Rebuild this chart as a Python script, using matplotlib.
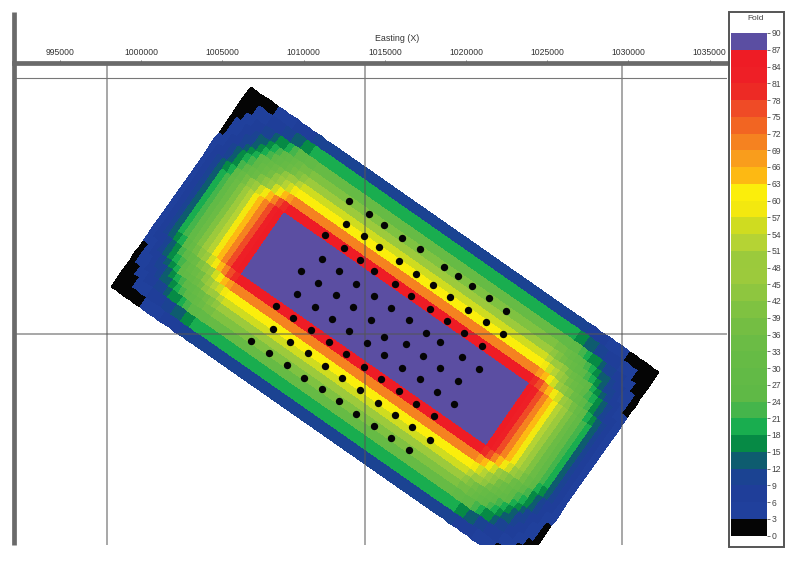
import numpy as np
import matplotlib
matplotlib.use("Agg")
import matplotlib.pyplot as plt
from matplotlib.colors import ListedColormap, BoundaryNorm
from matplotlib.patches import Rectangle

plt.rcParams['font.family'] = ['Liberation Sans', 'DejaVu Sans']

# Colour table, one colour per 3 fold
fold_levels = list(range(0, 93, 3))
fold_colours = [
    '#050505', '#20409c', '#1f3e99', '#1b4392', '#0e5c6f', '#068a45', '#19ad4f', '#45b54b',
    '#5fb946', '#62ba46', '#66bb45', '#6bbc45', '#74be43', '#7fc241', '#8ec63f', '#9cca3c',
    '#9bca3c', '#b5d334', '#cfdc20', '#f3e80f', '#fbee0b', '#fdb913', '#f99d1c', '#f58220',
    '#f26522', '#ef4b26', '#ed2a25', '#ee1f26', '#ee1c25', '#5b4ea2',
]

# Fold build up going in from the short end of the survey, then from the long side
inline_fold = [4.5, 8, 11, 14, 18, 22, 27, 33, 39, 45, 51, 57, 63, 69, 75, 81, 85]
crossline_fold = [11, 20, 31.5, 40.5, 46.5, 55.5, 61.5, 70.5, 85.5]
crossline_width = [11, 12, 10, 8, 8, 7, 9, 9, 10]

easting_ticks = [995000, 1000000, 1005000, 1010000, 1015000, 1020000, 1025000, 1030000, 1035000]

# Shot points, read in map units
shot_x = [349.3, 368.7, 346, 384, 325, 363.7, 401.7, 378.7, 343.7, 419.7, 322, 360, 398.7, 444, 300.7, 339.3, 374.3,
          415.7, 457.7, 317.7, 356.3, 433.3, 395.3, 472, 297.3, 335.7, 374, 410.7, 450.3, 489.3, 276, 314.7, 353,
          391.3, 430, 468, 506, 293.3, 332.3, 371, 408.7, 447.3, 486, 272.7, 311.3, 349.3, 426.3, 464, 503.3, 384,
          251.3, 290, 328.7, 367, 405.7, 439.7, 482, 269.3, 307.7, 346.3, 384, 423, 461.7, 286.7, 325, 363.7, 401.7,
          440, 478.7, 304.3, 342.3, 381, 419.7, 457.7, 321.7, 360, 398.7, 437, 339.3, 377.7, 415.7, 454.3, 356.3, 395,
          433.7, 374, 412, 391.3, 430, 408.7]
shot_y = [200.7, 213.7, 224.3, 224.7, 235.3, 236.3, 237.7, 247.3, 248.3, 249.3, 259.3, 259.7, 261, 267, 270.7, 271,
          270.7, 273.7, 276.3, 282.7, 283.7, 285.3, 284.3, 286.3, 294.3, 295, 295.7, 295.7, 297.3, 298.3, 305.7, 306.7,
          307, 308.3, 308.7, 310, 311.3, 317.7, 318.7, 319.7, 320, 321, 321.7, 329, 330.3, 330.7, 332.7, 332.7, 334.3,
          337.3, 340.7, 341.7, 342.3, 343.3, 344.3, 342.3, 345.7, 352.7, 353.3, 354, 355, 356, 357, 365, 366, 366.7,
          367.7, 368, 369.3, 377.7, 378.3, 379, 379, 380.7, 389.3, 390.3, 391, 392, 401.3, 402.7, 403.7, 404, 414, 415,
          415.7, 425.7, 427, 438.3, 439.7, 450.3]

# Survey box
centre_x, centre_y = 385.0, 329.5
half_length, half_width = 249.0, 122.0
along_x, along_y = 0.820, 0.572
inline_cell = 5.85

# Fold grid: inline x crossline
inline_profile = np.array(inline_fold + [90.0] + inline_fold[::-1])
crossline_profile = np.array(crossline_fold + [90.0] + crossline_fold[::-1])
fold_grid = np.outer(crossline_profile, inline_profile) / 90.0

end_cells = np.full(len(inline_fold), inline_cell)
u_widths = np.concatenate([end_cells, [2 * half_length - end_cells.sum() * 2], end_cells])
u_edges = np.concatenate([[0], np.cumsum(u_widths)]) - half_length
side_cells = np.array(crossline_width, dtype=float)
v_widths = np.concatenate([side_cells, [2 * half_width - side_cells.sum() * 2], side_cells[::-1]])
v_edges = np.concatenate([[0], np.cumsum(v_widths)]) - half_width

u_mesh, v_mesh = np.meshgrid(u_edges, v_edges)
map_x = centre_x + u_mesh * along_x - v_mesh * along_y
map_y = centre_y + u_mesh * along_y + v_mesh * along_x

fig_w, fig_h = 800, 569
fig = plt.figure(figsize=(fig_w / 100, fig_h / 100), dpi=100)


def px_axes(left, top, right, bottom):
    return fig.add_axes([left / fig_w, 1 - bottom / fig_h, (right - left) / fig_w, (bottom - top) / fig_h])


ax = px_axes(13.5, 63, 727, 545)
ax.set_xlim(13.5, 727)
ax.set_ylim(545, 63)

cmap = ListedColormap(fold_colours)
norm = BoundaryNorm(fold_levels, cmap.N)
mesh = ax.pcolormesh(map_x, map_y, fold_grid, cmap=cmap, norm=norm, shading='flat', antialiased=False, zorder=1)

ax.scatter(shot_x, shot_y, s=28, c='#050505', linewidths=0, zorder=3)

# Grid lines
for grid_x in [107, 365, 622]:
    ax.axvline(grid_x, color='#555555', alpha=0.65, lw=1.1, zorder=2)
ax.axhline(334, color='#555555', alpha=0.65, lw=1.1, zorder=2)
ax.axhline(77.5, color='#777777', lw=0.8, zorder=2)

# Left frame runs up past the top axis
ax.plot([13.5, 13.5], [12, 545], color='#6a6a6a', lw=3.4, clip_on=False, solid_capstyle='butt', zorder=5)
ax.set_xticks([])
ax.set_yticks([127, 208, 290, 371, 453, 535])
ax.set_yticklabels([])
ax.tick_params(axis='y', length=2, width=0.6, color='#555555')
for side in ['left', 'right', 'top', 'bottom']:
    ax.spines[side].set_visible(False)

# Easting axis along the top
ax_top = ax.twiny()
scale = 0.01624
ax_top.set_xlim(995000 + (13.5 - 60) / scale, 995000 + (727 - 60) / scale)
ax_top.set_xticks(easting_ticks)
ax_top.set_xticklabels([str(t) for t in easting_ticks], fontsize=6.2, color='#333333')
ax_top.tick_params(axis='x', length=2.5, width=0.6, color='#555555', pad=1.5)
ax_top.set_xlabel('Easting (X)', fontsize=6.4, color='#333333', labelpad=2.5)
ax_top.xaxis.set_label_coords((397 - 13.5) / (727 - 13.5), 1 + (63 - 41) / 482)
for side in ['left', 'right', 'bottom']:
    ax_top.spines[side].set_visible(False)
ax_top.spines['top'].set_linewidth(3.4)
ax_top.spines['top'].set_color('#6a6a6a')
ax_top.set_yticks([])

# Fold colour bar in its box
fig.add_artist(Rectangle((728.5 / fig_w, 1 - 547 / fig_h), 55.5 / fig_w, 535 / fig_h, transform=fig.transFigure,
                         fill=False, edgecolor='#555555', lw=1.4))
cax = px_axes(731, 33, 767, 535.5)
colour_bar = fig.colorbar(mesh, cax=cax, ticks=fold_levels, drawedges=False)
colour_bar.outline.set_visible(False)
cax.tick_params(axis='y', length=2, width=0.6, color='#555555', labelsize=6.2, labelcolor='#444444', pad=1.5)
fig.text(756 / fig_w, 1 - 18 / fig_h, 'Fold', fontsize=6, color='#444444', ha='center', va='center')

fig.savefig('out.png', dpi=100)
